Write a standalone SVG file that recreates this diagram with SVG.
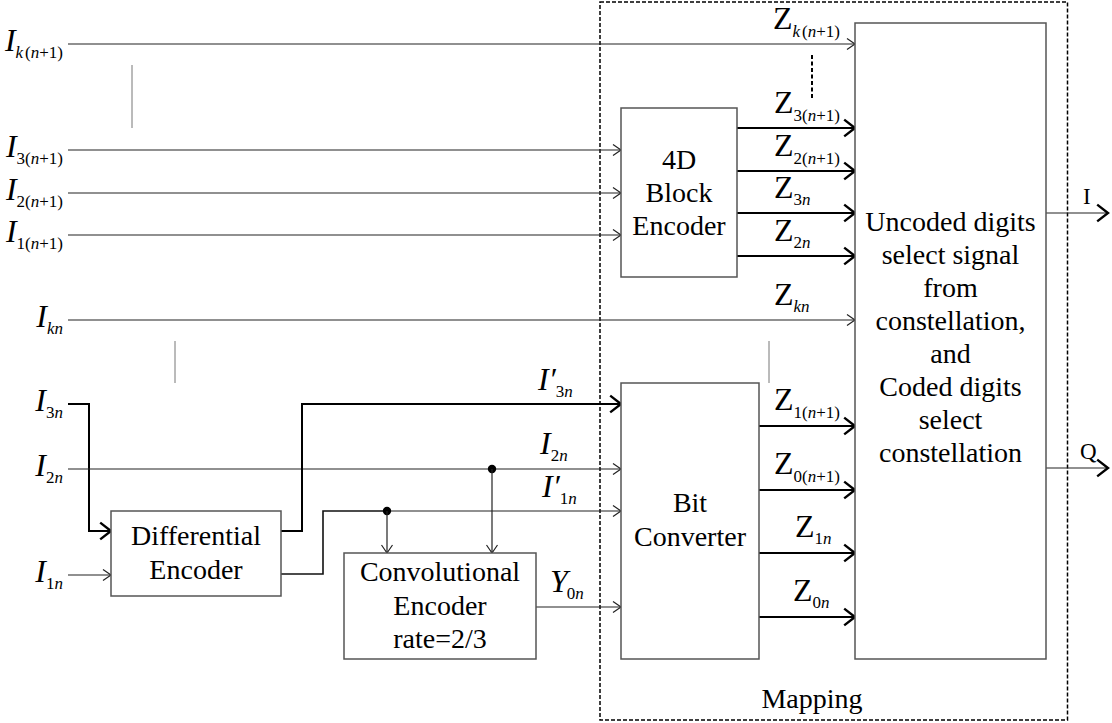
<svg xmlns="http://www.w3.org/2000/svg" width="1112" height="723" viewBox="0 0 1112 723">
  <defs>
    <style>
      .thin { fill: none; stroke: #222; stroke-width: 1.2; }
      .thick { fill: none; stroke: #000; stroke-width: 2; }
      .box { fill: #fff; stroke: #555; stroke-width: 1.5; }
      .dots { stroke: #777; stroke-width: 1; }
      .lbl { font-family: "Liberation Serif", "Times New Roman", serif; font-size: 28px; fill: #000; }
      .sym { font-size: 32px; }
      .it { font-style: italic; }
      .sub { font-size: 17px; }
      .mid { text-anchor: middle; }
      .end { text-anchor: end; }
    </style>
    <marker id="ahThin" markerUnits="userSpaceOnUse" markerWidth="20" markerHeight="20" viewBox="-12 -10 14 20" refX="0" refY="0" orient="auto" overflow="visible">
      <path d="M-8,-5.5 L0,0 L-8,5.5" fill="none" stroke="#222" stroke-width="1.2"/>
    </marker>
    <marker id="ahThick" markerUnits="userSpaceOnUse" markerWidth="24" markerHeight="24" viewBox="-14 -10 16 20" refX="0" refY="0" orient="auto" overflow="visible">
      <path d="M-9,-7 L0,0 L-9,7" fill="none" stroke="#000" stroke-width="2"/>
    </marker>
  </defs>

  <rect width="1112" height="723" fill="#fff"/>

  <!-- Mapping region -->
  <g id="mapping">
    <rect x="600" y="2" width="467.5" height="718" fill="none" stroke="#000" stroke-width="1.5" stroke-dasharray="4,2"/>
    <text class="lbl" x="812" y="708" text-anchor="middle">Mapping</text>
  </g>

  <!-- Connectors -->
  <g id="connectors">
    <!-- bypass inputs into the mapper -->
    <line class="thin" x1="68" y1="44" x2="855" y2="44" marker-end="url(#ahThin)"/>
    <line class="thin" x1="68" y1="320" x2="855" y2="320" marker-end="url(#ahThin)"/>
    <!-- inputs to 4D block encoder -->
    <line class="thin" x1="68" y1="150" x2="621" y2="150" marker-end="url(#ahThin)"/>
    <line class="thin" x1="68" y1="193" x2="621" y2="193" marker-end="url(#ahThin)"/>
    <line class="thin" x1="68" y1="235" x2="621" y2="235" marker-end="url(#ahThin)"/>
    <!-- 4D block encoder outputs -->
    <line class="thick" x1="737" y1="128" x2="855" y2="128" marker-end="url(#ahThick)"/>
    <line class="thick" x1="737" y1="171" x2="855" y2="171" marker-end="url(#ahThick)"/>
    <line class="thick" x1="737" y1="213" x2="855" y2="213" marker-end="url(#ahThick)"/>
    <line class="thick" x1="737" y1="256" x2="855" y2="256" marker-end="url(#ahThick)"/>
    <!-- I3n into differential encoder -->
    <polyline class="thick" points="68,404 89,404 89,531 111,531" marker-end="url(#ahThick)"/>
    <!-- I1n into differential encoder -->
    <line class="thin" x1="68" y1="575" x2="111" y2="575" marker-end="url(#ahThin)"/>
    <!-- I2n to bit converter -->
    <line class="thin" x1="68" y1="469" x2="621" y2="469" marker-end="url(#ahThin)"/>
    <!-- differential encoder outputs -->
    <polyline class="thick" points="281,531 302,531 302,404 621,404" marker-end="url(#ahThick)"/>
    <polyline fill="none" stroke="#111" stroke-width="1.6" points="281,574 323,574 323,511 387,511"/>
    <line class="thin" x1="387" y1="511" x2="621" y2="511" marker-end="url(#ahThin)"/>
    <!-- taps into convolutional encoder -->
    <circle cx="387" cy="511" r="4.2" fill="#000"/>
    <circle cx="492" cy="469" r="4.2" fill="#000"/>
    <line class="thin" x1="387" y1="511" x2="387" y2="553" marker-end="url(#ahThin)"/>
    <line class="thin" x1="492" y1="469" x2="492" y2="553" marker-end="url(#ahThin)"/>
    <!-- Y0n -->
    <line class="thin" x1="536" y1="607" x2="621" y2="607" marker-end="url(#ahThin)"/>
    <!-- bit converter outputs -->
    <line class="thick" x1="759" y1="426" x2="855" y2="426" marker-end="url(#ahThick)"/>
    <line class="thick" x1="759" y1="490" x2="855" y2="490" marker-end="url(#ahThick)"/>
    <line class="thick" x1="759" y1="553" x2="855" y2="553" marker-end="url(#ahThick)"/>
    <line class="thick" x1="759" y1="617" x2="855" y2="617" marker-end="url(#ahThick)"/>
    <!-- I and Q outputs -->
    <line class="thin" x1="1046" y1="213" x2="1108" y2="213" stroke-width="1.5" marker-end="url(#ahThick)"/>
    <line class="thin" x1="1046" y1="468" x2="1108" y2="468" stroke-width="1.5" marker-end="url(#ahThick)"/>
    <!-- ellipsis marks -->
    <line class="dots" x1="132" y1="65" x2="132" y2="128"/>
    <line class="dots" x1="175" y1="341" x2="175" y2="383"/>
    <line class="dots" x1="769" y1="341" x2="769" y2="383"/>
    <line x1="812" y1="55" x2="812" y2="98" stroke="#000" stroke-width="2" stroke-dasharray="4,2.5"/>
  </g>

  <!-- Input labels -->
  <g id="input-labels" class="lbl">
    <text class="end" x="63" y="51"><tspan class="sym it">I</tspan><tspan class="sub it" dy="7">k</tspan><tspan class="sub" dx="2">(</tspan><tspan class="sub it">n</tspan><tspan class="sub">+1)</tspan></text>
    <text class="end" x="63" y="157"><tspan class="sym it">I</tspan><tspan class="sub" dy="7">3(</tspan><tspan class="sub it">n</tspan><tspan class="sub">+1)</tspan></text>
    <text class="end" x="63" y="200"><tspan class="sym it">I</tspan><tspan class="sub" dy="7">2(</tspan><tspan class="sub it">n</tspan><tspan class="sub">+1)</tspan></text>
    <text class="end" x="63" y="242"><tspan class="sym it">I</tspan><tspan class="sub" dy="7">1(</tspan><tspan class="sub it">n</tspan><tspan class="sub">+1)</tspan></text>
    <text class="end" x="63" y="327"><tspan class="sym it">I</tspan><tspan class="sub it" dy="7">kn</tspan></text>
    <text class="end" x="63" y="411"><tspan class="sym it">I</tspan><tspan class="sub" dy="7">3</tspan><tspan class="sub it">n</tspan></text>
    <text class="end" x="63" y="476"><tspan class="sym it">I</tspan><tspan class="sub" dy="7">2</tspan><tspan class="sub it">n</tspan></text>
    <text class="end" x="63" y="582"><tspan class="sym it">I</tspan><tspan class="sub" dy="7">1</tspan><tspan class="sub it">n</tspan></text>
  </g>

  <!-- Signal labels inside the mapping region -->
  <g id="signal-labels" class="lbl">
    <text x="538" y="390"><tspan class="sym it">I′</tspan><tspan class="sub" dy="7">3</tspan><tspan class="sub it">n</tspan></text>
    <text x="540" y="454"><tspan class="sym it">I</tspan><tspan class="sub" dy="7">2</tspan><tspan class="sub it">n</tspan></text>
    <text x="542" y="497"><tspan class="sym it">I′</tspan><tspan class="sub" dy="7">1</tspan><tspan class="sub it">n</tspan></text>
    <text x="550" y="592"><tspan class="sym it">Y</tspan><tspan class="sub" dx="-1" dy="7">0</tspan><tspan class="sub it">n</tspan></text>

    <text x="773" y="29"><tspan class="sym">Z</tspan><tspan class="sub it" dy="8">k</tspan><tspan class="sub" dx="2">(</tspan><tspan class="sub it">n</tspan><tspan class="sub">+1)</tspan></text>
    <text x="774" y="113"><tspan class="sym">Z</tspan><tspan class="sub" dy="8">3(</tspan><tspan class="sub it">n</tspan><tspan class="sub">+1)</tspan></text>
    <text x="774" y="156"><tspan class="sym">Z</tspan><tspan class="sub" dy="8">2(</tspan><tspan class="sub it">n</tspan><tspan class="sub">+1)</tspan></text>
    <text x="774" y="198"><tspan class="sym">Z</tspan><tspan class="sub" dy="7">3</tspan><tspan class="sub it">n</tspan></text>
    <text x="774" y="241"><tspan class="sym">Z</tspan><tspan class="sub" dy="7">2</tspan><tspan class="sub it">n</tspan></text>
    <text x="774" y="305"><tspan class="sym">Z</tspan><tspan class="sub it" dy="7">kn</tspan></text>
    <text x="774" y="410"><tspan class="sym">Z</tspan><tspan class="sub" dy="8">1(</tspan><tspan class="sub it">n</tspan><tspan class="sub">+1)</tspan></text>
    <text x="774" y="474"><tspan class="sym">Z</tspan><tspan class="sub" dy="8">0(</tspan><tspan class="sub it">n</tspan><tspan class="sub">+1)</tspan></text>
    <text x="795" y="537"><tspan class="sym">Z</tspan><tspan class="sub" dy="7">1</tspan><tspan class="sub it">n</tspan></text>
    <text x="793" y="601"><tspan class="sym">Z</tspan><tspan class="sub" dy="7">0</tspan><tspan class="sub it">n</tspan></text>

    <text x="1083" y="204" style="font-size:23px">I</text>
    <text x="1080" y="459" style="font-size:23px">Q</text>
  </g>

  <!-- Blocks -->
  <g id="block-encoder">
    <rect class="box" x="621" y="108" width="116" height="169"/>
    <text class="lbl mid" x="679" y="169">4D</text>
    <text class="lbl mid" x="679" y="202">Block</text>
    <text class="lbl mid" x="679" y="235">Encoder</text>
  </g>

  <g id="differential-encoder">
    <rect class="box" x="111" y="511" width="170" height="85"/>
    <text class="lbl mid" x="196" y="545">Differential</text>
    <text class="lbl mid" x="196" y="579">Encoder</text>
  </g>

  <g id="convolutional-encoder">
    <rect class="box" x="344" y="553" width="192" height="106"/>
    <text class="lbl mid" x="440" y="581">Convolutional</text>
    <text class="lbl mid" x="440" y="615">Encoder</text>
    <text class="lbl mid" x="440" y="648">rate=2/3</text>
  </g>

  <g id="bit-converter">
    <rect class="box" x="621" y="383" width="138" height="276"/>
    <text class="lbl mid" x="690" y="512">Bit</text>
    <text class="lbl mid" x="690" y="546">Converter</text>
  </g>

  <g id="signal-selector">
    <rect class="box" x="855" y="23" width="191" height="636"/>
    <text class="lbl mid" x="950.5" y="231">Uncoded digits</text>
    <text class="lbl mid" x="950.5" y="264">select signal</text>
    <text class="lbl mid" x="950.5" y="297">from</text>
    <text class="lbl mid" x="950.5" y="330">constellation,</text>
    <text class="lbl mid" x="950.5" y="363">and</text>
    <text class="lbl mid" x="950.5" y="396">Coded digits</text>
    <text class="lbl mid" x="950.5" y="429">select</text>
    <text class="lbl mid" x="950.5" y="462">constellation</text>
  </g>
</svg>
